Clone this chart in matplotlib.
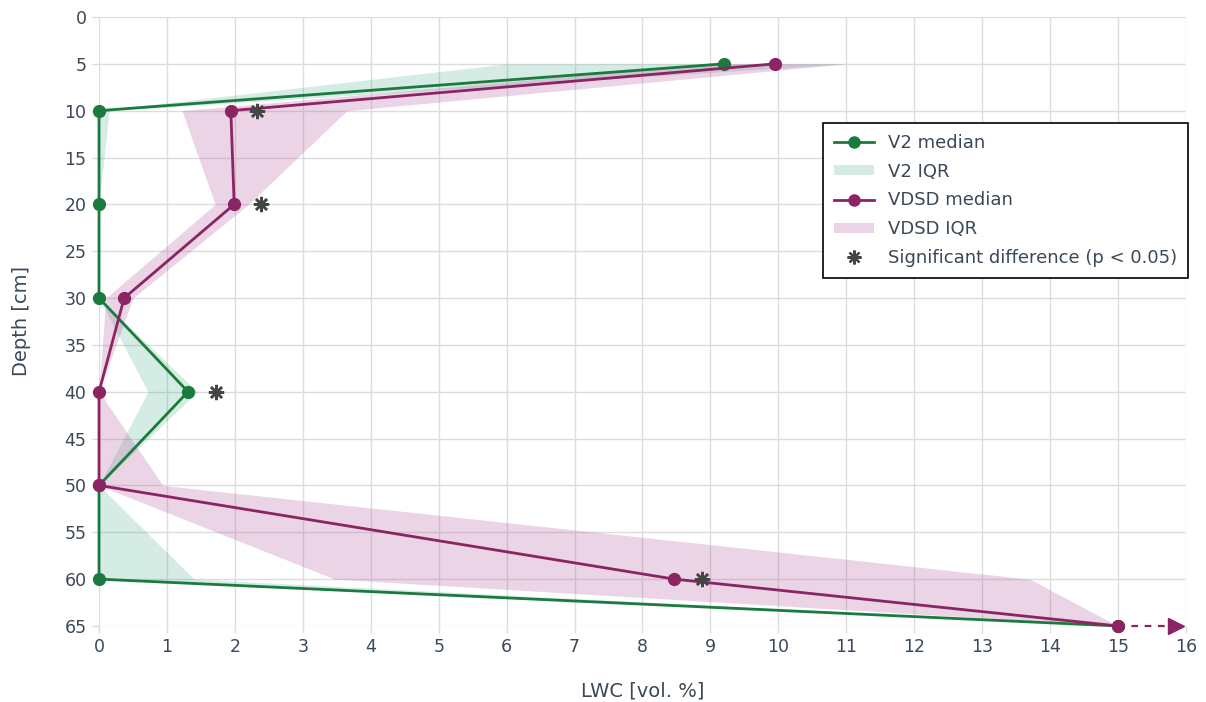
import matplotlib.pyplot as plt
from matplotlib.lines import Line2D
from matplotlib.patches import Patch

# depths [cm] and LWC [vol. %]
depth = [5, 10, 20, 30, 40, 50, 60, 65]
v2_median = [9.2, 0, 0, 0, 1.31, 0, 0, 15]
v2_q1 = [6.0, 0, 0, 0, 0.72, 0, 0, 15]
v2_q3 = [11.0, 0.15, 0, 0, 1.45, 0, 1.4, 15]
vdsd_median = [9.95, 1.94, 1.99, 0.37, 0, 0, 8.47, 15]
vdsd_q1 = [9.0, 1.22, 1.71, 0.1, 0, 0, 3.47, 15]
vdsd_q3 = [11.0, 3.65, 2.2, 0.5, 0, 0.94, 13.7, 15]
sig_depth = [10, 20, 40, 60]
sig_lwc = [2.33, 2.39, 1.72, 8.87]
overflow_lwc = [15, 15.85]
overflow_depth = [65, 65]

green = '#1b7a3e'
magenta = '#8b2462'
green_fill = (0.19, 0.63, 0.50, 0.2)
pink_fill = (0.70, 0.34, 0.62, 0.25)
text_col = '#3a4858'

plt.rcParams['font.family'] = ['DejaVu Sans']
fig = plt.figure(figsize=(12.06, 7.02), dpi=100)
ax = fig.add_axes([0.0821, 0.1083, 0.9013, 0.8675])

ax.fill_betweenx(depth, v2_q1, v2_q3, color=green_fill, lw=0, zorder=2)
ax.fill_betweenx(depth, vdsd_q1, vdsd_q3, color=pink_fill, lw=0, zorder=2)

ax.plot(v2_median, depth, color=green, lw=2, marker='o', ms=8.5, zorder=4, clip_on=False)
ax.plot(vdsd_median, depth, color=magenta, lw=2, marker='o', ms=8.5, zorder=5, clip_on=False)
ax.plot(sig_lwc, sig_depth, ls='none', marker=(8, 2, 0), ms=11, mew=1.8,
        color='#444444', zorder=6, clip_on=False)

# value beyond the axis: dashed arrow
ax.plot(overflow_lwc, overflow_depth, color=magenta, lw=1.6, ls=(0, (3, 3)), zorder=3, clip_on=False)
ax.plot([overflow_lwc[1]], [overflow_depth[1]], marker='>', ms=11, color=magenta,
        ls='none', zorder=3, clip_on=False)

ax.set_xlim(0, 16)
ax.set_ylim(65, 0)
ax.set_xticks(range(0, 17))
ax.set_yticks(range(0, 66, 5))
ax.grid(True, color='#dcdcdc', lw=1)
ax.set_axisbelow(True)
for s in ax.spines.values():
    s.set_visible(False)
ax.tick_params(length=5, width=1, color='#dcdcdc', labelsize=12.5, labelcolor=text_col, pad=4)
ax.set_xlabel('LWC [vol. %]', fontsize=14, color=text_col, labelpad=18)
ax.set_ylabel('Depth [cm]', fontsize=14, color=text_col, labelpad=24)

handles = [
    Line2D([], [], color=green, lw=2, marker='o', ms=8),
    Patch(facecolor=green_fill, edgecolor='none'),
    Line2D([], [], color=magenta, lw=2, marker='o', ms=8),
    Patch(facecolor=pink_fill, edgecolor='none'),
    Line2D([], [], ls='none', marker=(8, 2, 0), ms=10, mew=1.6, color='#444444'),
]
labels = ['V2 median', 'V2 IQR', 'VDSD median', 'VDSD IQR', 'Significant difference (p < 0.05)']
leg = ax.legend(handles, labels, loc='upper right', bbox_to_anchor=(1.002, 0.826),
                borderaxespad=0, fontsize=13, frameon=True, fancybox=False, framealpha=1,
                edgecolor='black', labelcolor=text_col, handlelength=2.2,
                handleheight=0.5, borderpad=0.6, labelspacing=0.6)
leg.get_frame().set_linewidth(1.2)

fig.savefig('out.png', dpi=100)
